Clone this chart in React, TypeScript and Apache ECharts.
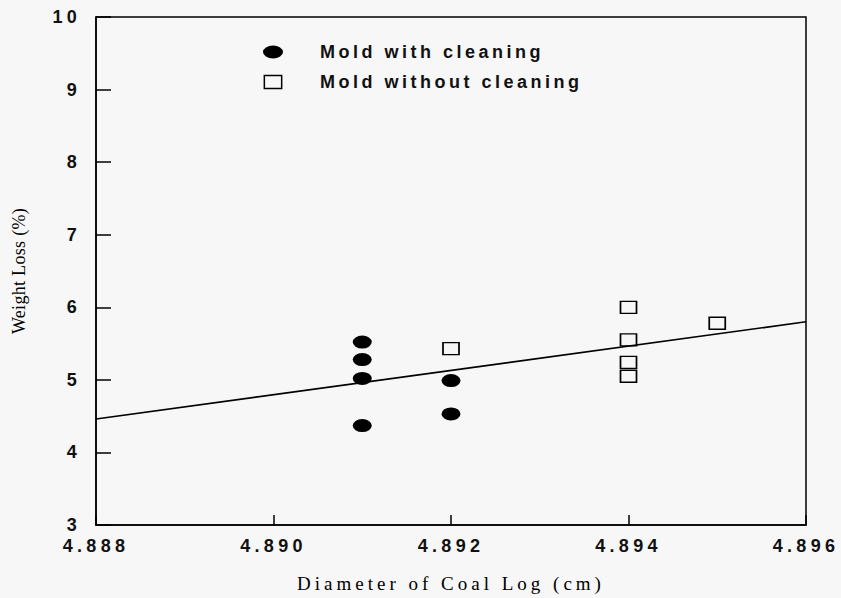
import React, { useEffect, useRef } from 'react';
import * as echarts from 'echarts';

// ---- data ----
const xMin = 4.888;
const xMax = 4.896;
const xStep = 0.002;
const yMin = 3;
const yMax = 10;
const yStep = 1;

const withCleaningX = [4.891, 4.891, 4.891, 4.891, 4.892, 4.892];
const withCleaningY = [5.52, 5.28, 5.02, 4.37, 4.99, 4.53];

const withoutCleaningX = [4.892, 4.894, 4.894, 4.894, 4.894, 4.895];
const withoutCleaningY = [5.43, 6.0, 5.55, 5.24, 5.05, 5.78];

const fitX = [4.888, 4.896];
const fitY = [4.46, 5.8];

const seriesNames = ['Mold with cleaning', 'Mold without cleaning'];
const xTitle = 'Diameter of Coal Log (cm)';
const yTitle = 'Weight Loss (%)';

const zip = (xs: number[], ys: number[]) => xs.map((x, i) => [x, ys[i]]);

const ELLIPSE = 'path://M0,6.5A10,6.5 0 1,0 20,6.5A10,6.5 0 1,0 0,6.5Z';
const RECT16 = 'path://M0,0H16V12H0Z';

const TICK_FONT = 'Liberation Sans';
const LEGEND_FONT = 'Liberation Sans, sans-serif';

const css = `
.chart-root text[style*="Liberation Sans"] { letter-spacing: 4.3px; }
.chart-root text[style*="sans-serif"] { letter-spacing: 3.5px; }
.chart-root text[style*="Liberation Serif"] { letter-spacing: 4px; }
.chart-root text[style*="Times New Roman"] { letter-spacing: 0.3px; }
`;

export default function App() {
  const ref = useRef<HTMLDivElement>(null);

  useEffect(() => {
    if (!ref.current) return;
    const chart = echarts.init(ref.current, null, { renderer: 'svg' });
    chart.setOption({
      animation: false,
      backgroundColor: '#f7f7f7',
      grid: {
        left: 96,
        right: 35,
        top: 17,
        bottom: 71,
        show: true,
        borderColor: '#000',
        borderWidth: 1.5,
        backgroundColor: 'transparent',
      },
      legend: {
        orient: 'vertical',
        left: 263,
        top: 43,
        padding: 0,
        itemWidth: 20,
        itemHeight: 13,
        itemGap: 12,
        selectedMode: false,
        symbolKeepAspect: true,
        textStyle: {
          fontFamily: LEGEND_FONT,
          fontSize: 18,
          fontWeight: 'bold',
          color: '#111',
          lineHeight: 18,
          padding: [0, 0, 0, 32],
        },
        data: [
          { name: seriesNames[0], icon: ELLIPSE, itemStyle: { color: '#000', borderWidth: 0 } },
          {
            name: seriesNames[1],
            icon: RECT16,
            itemStyle: { color: 'rgba(0,0,0,0)', borderColor: '#000', borderWidth: 1.5 },
          },
        ],
      },
      xAxis: {
        type: 'value',
        min: xMin,
        max: xMax,
        interval: xStep,
        name: xTitle,
        nameLocation: 'middle',
        nameGap: 49,
        nameTextStyle: { fontFamily: 'Liberation Serif', fontSize: 19, color: '#000' },
        axisLine: { show: true, lineStyle: { color: '#000', width: 1.5 } },
        axisTick: { show: true, inside: true, length: 10, lineStyle: { color: '#000', width: 1.5 } },
        axisLabel: {
          margin: 12,
          fontFamily: TICK_FONT,
          fontSize: 18,
          fontWeight: 'bold',
          color: '#111',
          formatter: (v: number) => v.toFixed(3),
        },
        splitLine: { show: false },
      },
      yAxis: {
        type: 'value',
        min: yMin,
        max: yMax,
        interval: yStep,
        name: yTitle,
        nameLocation: 'middle',
        nameGap: 68,
        nameTextStyle: {
          fontFamily: "'Times New Roman', 'Liberation Serif', serif",
          fontSize: 18,
          color: '#000',
        },
        axisLine: { show: true, lineStyle: { color: '#000', width: 1.5 } },
        axisTick: { show: true, inside: true, length: 15, lineStyle: { color: '#000', width: 1.5 } },
        axisLabel: {
          margin: 15,
          fontFamily: TICK_FONT,
          fontSize: 18,
          fontWeight: 'bold',
          color: '#111',
        },
        splitLine: { show: false },
      },
      series: [
        {
          name: 'fit',
          type: 'line',
          data: zip(fitX, fitY),
          symbol: 'none',
          lineStyle: { color: '#000', width: 1.6 },
          z: 1,
        },
        {
          name: seriesNames[0],
          type: 'scatter',
          data: zip(withCleaningX, withCleaningY),
          symbol: ELLIPSE,
          symbolSize: [19, 13],
          symbolKeepAspect: false,
          itemStyle: { color: '#000', opacity: 1 },
          z: 3,
        },
        {
          name: seriesNames[1],
          type: 'scatter',
          data: zip(withoutCleaningX, withoutCleaningY),
          symbol: 'rect',
          symbolSize: [16, 12],
          itemStyle: { color: 'rgba(0,0,0,0)', borderColor: '#000', borderWidth: 1.5, opacity: 1 },
          z: 3,
        },
      ],
    });
    return () => chart.dispose();
  }, []);

  return (
    <>
      <style>{css}</style>
      <div
        ref={ref}
        className="chart-root"
        style={{ position: 'absolute', left: 0, top: 0, width: 841, height: 598, background: '#f7f7f7' }}
      />
    </>
  );
}
